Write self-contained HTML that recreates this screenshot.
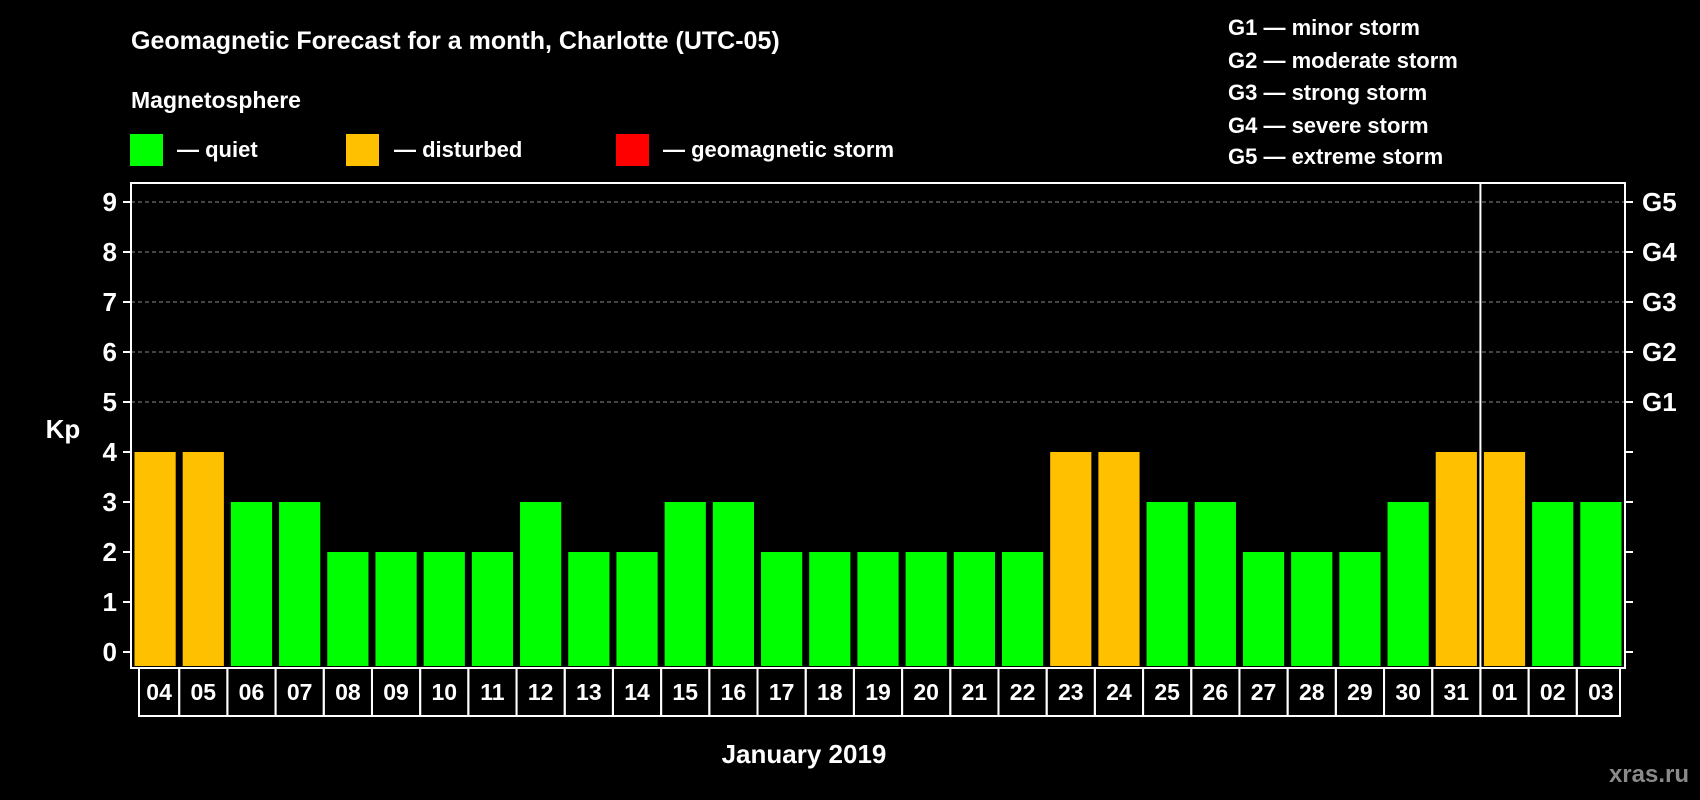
<!DOCTYPE html>
<html><head><meta charset="utf-8"><style>
html,body{margin:0;padding:0;background:#000;}
svg{display:block;font-family:"Liberation Sans",Arial,sans-serif;font-weight:bold;}
</style></head><body>
<svg id="chart" width="1700" height="800" viewBox="0 0 1700 800">
<rect x="0" y="0" width="1700" height="800" fill="#000"/>
<text x="131" y="49" fill="#fff" font-size="25">Geomagnetic Forecast for a month, Charlotte (UTC-05)</text>
<text x="131" y="108" fill="#fff" font-size="23">Magnetosphere</text>
<g>
<rect x="130" y="134" width="33" height="32" fill="#00ff00"/>
<text x="177" y="157" fill="#fff" font-size="22">— quiet</text></g>
<g>
<rect x="346" y="134" width="33" height="32" fill="#ffc000"/>
<text x="394" y="157" fill="#fff" font-size="22">— disturbed</text></g>
<g>
<rect x="616" y="134" width="33" height="32" fill="#ff0000"/>
<text x="663" y="157" fill="#fff" font-size="22">— geomagnetic storm</text></g>
<g font-size="22" fill="#fff">
<text x="1228" y="35">G1 — minor storm</text>
<text x="1228" y="68">G2 — moderate storm</text>
<text x="1228" y="100">G3 — strong storm</text>
<text x="1228" y="133">G4 — severe storm</text>
<text x="1228" y="164">G5 — extreme storm</text>
</g>
<text x="63" y="438" fill="#fff" font-size="26" text-anchor="middle">Kp</text>
<text x="804" y="763" fill="#fff" font-size="26" text-anchor="middle">January 2019</text>
<text x="1689" y="782" fill="#8a8a8a" font-size="24" text-anchor="end">xras.ru</text>
<g id="plot"></g>
</svg>
<script>
const days = ["04","05","06","07","08","09","10","11","12","13","14","15","16","17","18","19","20","21","22","23","24","25","26","27","28","29","30","31","01","02","03"];
const kpValues = [4,4,3,3,2,2,2,2,3,2,2,3,3,2,2,2,2,2,2,4,4,3,3,2,2,2,3,4,4,3,3];
const yTicks = [0,1,2,3,4,5,6,7,8,9];
const gLabels = ["G1","G2","G3","G4","G5"];
const monthBreakIndex = 28;

const NS = "http://www.w3.org/2000/svg";
const L = 131, R = 1625, T = 183, B = 668, LB = 716;
const y0 = 652, unit = 50;
const slot = (R - L) / days.length;
function yScale(v){ return y0 - v * unit; }
function xScale(i){ return L + i * slot; }
function mk(tag, attrs, parent){
  const e = document.createElementNS(NS, tag);
  for (const k in attrs) e.setAttribute(k, attrs[k]);
  parent.appendChild(e);
  return e;
}
const g = document.getElementById("plot");

yTicks.forEach(t => {
  const y = yScale(t);
  if (t >= 5) {
    const gl = mk("line", {x1:L, x2:R, y1:y, y2:y, stroke:"#888", "stroke-width":1, "stroke-dasharray":"4,3"}, g);
    
    
  }
  const tl = mk("line", {x1:L-8, x2:L, y1:y, y2:y, stroke:"#fff", "stroke-width":2}, g);
  
  
  const tr = mk("line", {x1:R, x2:R+8, y1:y, y2:y, stroke:"#fff", "stroke-width":2}, g);
  
  
  const lab = mk("text", {x:117, y:y+9, fill:"#fff", "font-size":26, "text-anchor":"end"}, g);
  lab.textContent = t;
  
  
  if (t >= 5) {
    const gt = mk("text", {x:1642, y:y+9, fill:"#fff", "font-size":26}, g);
    gt.textContent = gLabels[t-5];
    
    
  }
});

kpValues.forEach((v, i) => {
  const col = v >= 5 ? "#ff0000" : (v >= 4 ? "#ffc000" : "#00ff00");
  const x = xScale(i) + 3.5;
  const b = mk("rect", {x:x, y:yScale(v), width:slot-7, height:(B - 2) - yScale(v), fill:col}, g);
  
  
  const bx = mk("rect", {x:xScale(i)+ (i===0?8:0), y:B, width:slot - (i===0?8:0) - (i===days.length-1?5:0), height:LB-B, fill:"none", stroke:"#fff", "stroke-width":2}, g);
  
  
  const tx = mk("text", {x:xScale(i)+slot/2 + (i===0?4:0), y:B+32, fill:"#fff", "font-size":23, "text-anchor":"middle"}, g);
  tx.textContent = days[i];
  
  
});

const frame = mk("rect", {x:L, y:T, width:R-L, height:B-T, fill:"none", stroke:"#fff", "stroke-width":2}, g);


const dv = mk("line", {x1:xScale(monthBreakIndex), x2:xScale(monthBreakIndex), y1:T, y2:LB, stroke:"#fff", "stroke-width":2}, g);


</script>
</body></html>
